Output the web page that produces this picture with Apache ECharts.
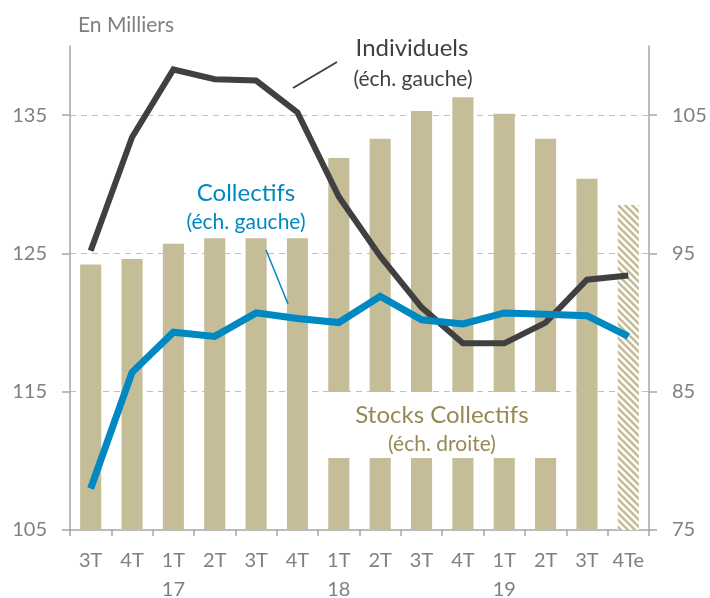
<!DOCTYPE html>
<html>
<head>
<meta charset="utf-8">
<script src="https://cdn.jsdelivr.net/npm/echarts@6/dist/echarts.min.js"></script>
<style>
html,body{margin:0;padding:0;background:#fff;}
#chart{width:710px;height:598px;}
</style>
</head>
<body>
<div id="chart"></div>
<script>
const categories = ['3T','4T','1T\n17','2T','3T','4T','1T\n18','2T','3T','4T','1T\n19','2T','3T','4Te'];
const stocksCollectifs = [94.2, 94.6, 95.7, 96.1, 96.1, 96.1, 101.9, 103.3, 105.3, 106.3, 105.1, 103.3, 100.4, 98.5];
const individuels = [125.2, 133.4, 138.3, 137.6, 137.5, 135.2, 129.1, 124.8, 121.1, 118.5, 118.5, 120.0, 123.1, 123.4];
const collectifs = [108.0, 116.4, 119.3, 119.0, 120.7, 120.3, 120.0, 121.9, 120.2, 119.9, 120.7, 120.6, 120.5, 119.0];
const leftTicks = [105, 115, 125, 135];
const rightTicks = [75, 85, 95, 105];

const FONT = 'Lato';
const GRAY = '#808080';
const TAN = '#C4BD97';

// hatch pattern for estimated bar
const pc = document.createElement('canvas');
pc.width = 7; pc.height = 7;
const pctx = pc.getContext('2d');
pctx.fillStyle = '#ffffff';
pctx.fillRect(0,0,7,7);
pctx.strokeStyle = TAN;
pctx.lineWidth = 2.6;
pctx.beginPath();
pctx.moveTo(-2,-2); pctx.lineTo(9,9);
pctx.moveTo(-9,-2); pctx.lineTo(2,9);
pctx.moveTo(5,-2); pctx.lineTo(16,9);
pctx.stroke();
const hatch = { image: pc, repeat: 'repeat' };

const barData = stocksCollectifs.map((v, i) => i === categories.length - 1
  ? { value: v, itemStyle: { color: hatch } }
  : v);

const chart = echarts.init(document.getElementById('chart'), null, { renderer: 'canvas' });
chart.setOption({
  animation: false,
  textStyle: { fontFamily: FONT },
  grid: { left: 70, right: 61, top: 46, bottom: 68, containLabel: false, outerBoundsMode: 'none' },
  xAxis: {
    type: 'category',
    data: categories,
    axisLine: { show: true, lineStyle: { color: '#A6A6A6', width: 1.5 } },
    axisTick: { show: true, length: 6, lineStyle: { color: '#A6A6A6', width: 1.5 } },
    axisLabel: { color: GRAY, fontSize: 20, fontFamily: FONT, margin: 16, lineHeight: 29 },
    splitLine: { show: false }
  },
  yAxis: [
    {
      type: 'value', position: 'left', min: 105, max: 140, interval: 10,
      axisLine: { show: true, lineStyle: { color: '#A6A6A6', width: 1.5 } },
      axisTick: { show: true, length: 8, inside: false, customValues: leftTicks, lineStyle: { color: '#A6A6A6', width: 1.5 } },
      axisLabel: { color: GRAY, fontSize: 20, fontFamily: FONT, margin: 23, customValues: leftTicks },
      splitLine: { show: true, showMinLine: false, lineStyle: { color: '#BFBFBF', type: [6, 5], width: 1 } }
    },
    {
      type: 'value', position: 'right', min: 75, max: 110, interval: 10,
      axisLine: { show: true, lineStyle: { color: '#A6A6A6', width: 1.5 } },
      axisTick: { show: true, length: 8, customValues: rightTicks, lineStyle: { color: '#A6A6A6', width: 1.5 } },
      axisLabel: { color: GRAY, fontSize: 20, fontFamily: FONT, margin: 23, customValues: rightTicks },
      splitLine: { show: false }
    }
  ],
  series: [
    {
      name: 'Stocks Collectifs', type: 'bar', yAxisIndex: 1, data: barData,
      barWidth: '51%', z: 1,
      itemStyle: { color: TAN }
    },
    {
      name: 'Individuels', type: 'line', yAxisIndex: 0, data: individuels,
      symbol: 'none', z: 5,
      lineStyle: { color: '#404040', width: 6, join: 'miter' }
    },
    {
      name: 'Collectifs', type: 'line', yAxisIndex: 0, data: collectifs,
      symbol: 'none', z: 6,
      lineStyle: { color: '#0088C2', width: 7, join: 'miter' }
    }
  ],
  graphic: [
    { type: 'rect', z: 3, shape: { x: 311, y: 392, width: 262, height: 66 }, style: { fill: '#ffffff' } },
    { type: 'text', z: 10, x: 78, y: 25, style: { text: 'En Milliers', fill: GRAY, font: '21px Lato', textAlign: 'left', textVerticalAlign: 'middle' } },
    { type: 'text', z: 10, x: 412, y: 48, style: { text: 'Individuels', fill: '#404040', font: '24px Lato', textAlign: 'center', textVerticalAlign: 'middle' } },
    { type: 'text', z: 10, x: 413, y: 79, style: { text: '(éch. gauche)', fill: '#404040', font: '21px Lato', textAlign: 'center', textVerticalAlign: 'middle' } },
    { type: 'line', z: 10, shape: { x1: 293, y1: 88, x2: 337, y2: 62 }, style: { stroke: '#404040', lineWidth: 2 } },
    { type: 'text', z: 10, x: 246, y: 193, style: { text: 'Collectifs', fill: '#0088C2', font: '24px Lato', textAlign: 'center', textVerticalAlign: 'middle' } },
    { type: 'text', z: 10, x: 246, y: 222, style: { text: '(éch. gauche)', fill: '#0088C2', font: '21px Lato', textAlign: 'center', textVerticalAlign: 'middle' } },
    { type: 'line', z: 10, shape: { x1: 266, y1: 250, x2: 288, y2: 304 }, style: { stroke: '#0088C2', lineWidth: 1.5 } },
    { type: 'text', z: 10, x: 442, y: 415, style: { text: 'Stocks Collectifs', fill: '#948A54', font: '24px Lato', textAlign: 'center', textVerticalAlign: 'middle' } },
    { type: 'text', z: 10, x: 442, y: 444, style: { text: '(éch. droite)', fill: '#948A54', font: '21px Lato', textAlign: 'center', textVerticalAlign: 'middle' } }
  ]
});
</script>
</body>
</html>
